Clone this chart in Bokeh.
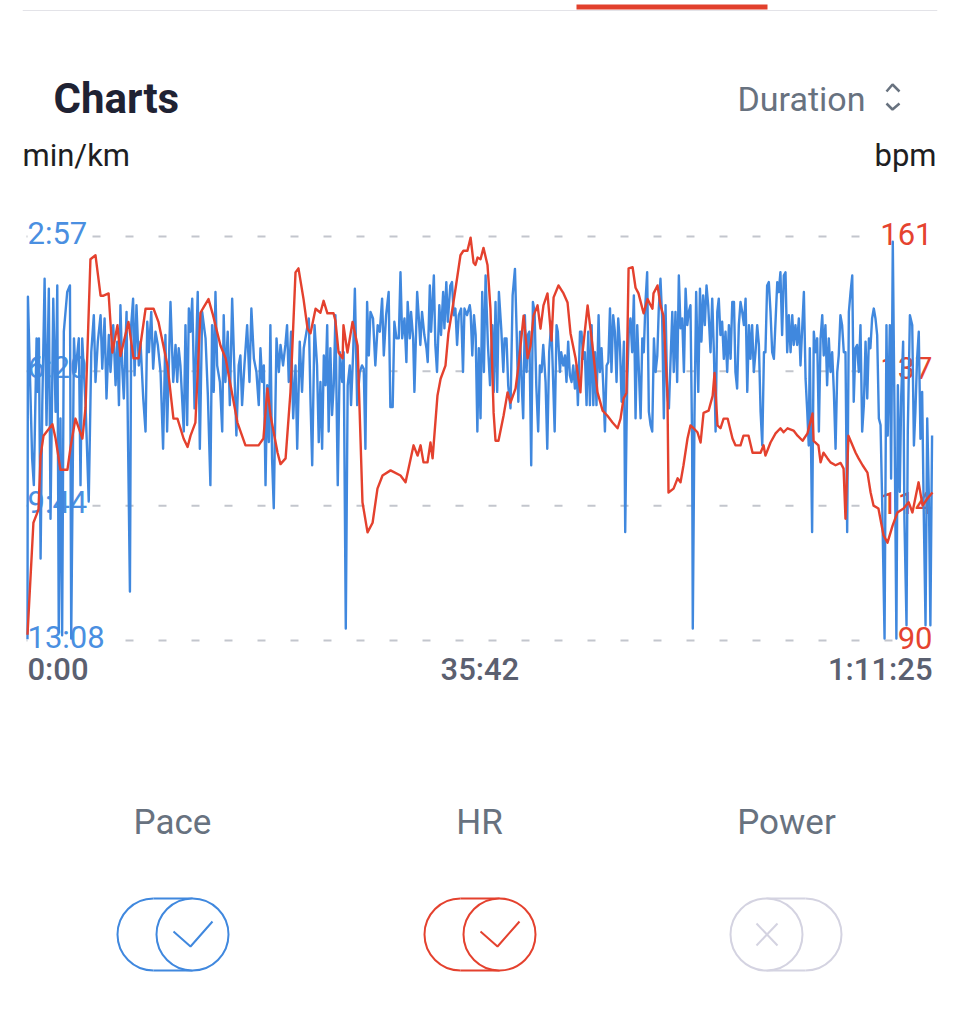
from bokeh.plotting import figure
from bokeh.layouts import column
from bokeh.models import Range1d, Span, Label
from bokeh.core.properties import value
from bokeh.embed import file_html
from bokeh.resources import INLINE

# ---------------- data ----------------
# heart rate samples: elapsed seconds / bpm
hr_time = [
    0, 28, 52, 62, 76, 118, 133, 156, 189, 204,
    227, 260, 275, 298, 322, 346, 360, 384, 402, 426,
    440, 478, 502, 526, 559, 597, 620, 663, 691, 710,
    739, 758, 772, 795, 819, 833, 857, 876, 914, 938,
    994, 1032, 1094, 1117, 1136, 1151, 1184, 1198, 1222, 1245,
    1269, 1283, 1307, 1326, 1340, 1364, 1387, 1402, 1420, 1449,
    1458, 1473, 1492, 1496, 1515, 1539, 1563, 1586, 1610, 1634,
    1657, 1681, 1719, 1766, 1790, 1804, 1828, 1847, 1861, 1875,
    1894, 1908, 1918, 1941, 1956, 1979, 1993, 2012, 2027, 2050,
    2064, 2083, 2098, 2112, 2121, 2131, 2145, 2159, 2178, 2192,
    2207, 2216, 2230, 2254, 2273, 2287, 2311, 2325, 2349, 2368,
    2382, 2396, 2415, 2429, 2443, 2462, 2481, 2491, 2514, 2538,
    2557, 2571, 2595, 2618, 2628, 2652, 2675, 2699, 2723, 2746,
    2770, 2794, 2808, 2822, 2836, 2846, 2865, 2879, 2893, 2917,
    2936, 2959, 2964, 2983, 2997, 3011, 3030, 3035, 3059, 3078,
    3092, 3106, 3125, 3139, 3154, 3172, 3187, 3201, 3225, 3244,
    3253, 3267, 3281, 3296, 3315, 3338, 3352, 3376, 3390, 3414,
    3433, 3471, 3485, 3494, 3518, 3542, 3565, 3580, 3599, 3627,
    3646, 3670, 3693, 3717, 3722, 3745, 3755, 3769, 3788, 3802,
    3826, 3850, 3864, 3873, 3887, 3906, 3921, 3935, 3954, 3977,
    3992, 4006, 4029, 4053, 4072, 4096, 4119, 4148, 4172, 4190,
    4219, 4238, 4262, 4285,
]
hr_bpm = [
    91, 110.7, 113, 122.5, 126, 128, 125.5, 120, 120, 124,
    129, 125.5, 131, 157, 157.7, 150.6, 150.6, 151, 140.6, 145.4,
    140, 146, 139.6, 139.6, 148.3, 148.3, 146, 138.3, 129, 129,
    125.5, 124, 126, 128.3, 147.6, 148.5, 150, 147.5, 141.8, 139.6,
    128.3, 124.3, 124.3, 125.5, 134.3, 129.5, 123, 121, 122, 133.6,
    154.7, 155.4, 150, 144.8, 144, 148.3, 147.6, 149.7, 147.5, 147.5,
    146.2, 140.6, 139.6, 145.4, 140.6, 146, 141.8, 114.3, 109, 110.7,
    116.7, 119, 119.9, 119, 117.8, 120.2, 124.3, 122.5, 124.3, 121.3,
    121.3, 124.8, 122, 133, 136, 138.3, 144, 148.3, 151.9, 157.7,
    158.5, 158.5, 160.8, 156.4, 156, 157.3, 157, 159, 156, 148.3,
    130, 125.1, 125.1, 129.5, 133.6, 131.8, 134.3, 138.3, 147.1, 139.6,
    141.8, 147.1, 148.9, 144.8, 148.9, 151, 142.7, 150.3, 152.4, 151,
    149.4, 144, 139.6, 133.6, 140.6, 148.9, 141.8, 133.6, 130.4, 129.5,
    128.3, 127.3, 129, 132.5, 133.5, 155.4, 155.6, 152, 151, 147.5,
    150, 148.3, 151, 152.4, 148.9, 147.1, 133.6, 116, 116.7, 118.5,
    117.8, 120.8, 125.5, 127.8, 127.3, 126.6, 124.8, 130, 130.4, 133,
    137, 127.8, 127.3, 129, 129, 125.5, 124.3, 124.3, 126, 126,
    123, 123, 124.3, 122.5, 124.8, 126.4, 127.3, 126.6, 127.3, 126.9,
    126, 125.1, 126.4, 129.9, 125.1, 124.3, 121.3, 123, 122, 121.3,
    120.8, 121.2, 120.2, 111.4, 126, 124.3, 123, 122, 120.8, 119.5,
    116, 113.7, 113.2, 108.5, 107.2, 110.2, 112.5, 113.2, 114.3, 112.5,
    117.8, 113.7, 115, 116,
]

# pace samples: elapsed seconds / seconds per km
pace_time = [
    0, 2, 22, 30, 43, 49, 54, 62, 70, 81,
    90, 101, 109, 122, 133, 141, 148, 156, 164, 172,
    188, 201, 207, 220, 227, 243, 251, 259, 275, 290,
    302, 314, 322, 333, 346, 354, 365, 374, 385, 393,
    406, 417, 425, 433, 440, 448, 456, 469, 475, 485,
    491, 500, 507, 516, 527, 535, 548, 559, 567, 575,
    586, 595, 606, 617, 630, 642, 653, 661, 677, 690,
    701, 709, 716, 724, 740, 748, 756, 764, 772, 780,
    791, 806, 816, 827, 843, 854, 866, 874, 882, 890,
    898, 911, 922, 929, 937, 948, 958, 969, 980, 989,
    1000, 1008, 1016, 1027, 1040, 1051, 1060, 1072, 1084, 1095,
    1103, 1111, 1119, 1127, 1135, 1143, 1150, 1158, 1166, 1179,
    1190, 1198, 1210, 1221, 1229, 1237, 1248, 1258, 1269, 1277,
    1289, 1300, 1308, 1321, 1332, 1340, 1348, 1359, 1371, 1379,
    1387, 1395, 1403, 1411, 1419, 1426, 1434, 1442, 1450, 1458,
    1469, 1479, 1490, 1497, 1507, 1516, 1526, 1532, 1542, 1550,
    1561, 1573, 1584, 1592, 1600, 1608, 1616, 1624, 1636, 1647,
    1658, 1668, 1679, 1687, 1698, 1710, 1718, 1729, 1737, 1747,
    1758, 1766, 1774, 1785, 1794, 1800, 1810, 1816, 1826, 1832,
    1845, 1853, 1860, 1868, 1879, 1889, 1895, 1905, 1911, 1924,
    1931, 1939, 1950, 1958, 1968, 1974, 1983, 1990, 2002, 2010,
    2018, 2026, 2034, 2042, 2053, 2062, 2069, 2081, 2094, 2098,
    2106, 2114, 2122, 2130, 2137, 2145, 2153, 2161, 2169, 2180,
    2190, 2201, 2208, 2216, 2224, 2232, 2243, 2253, 2259, 2268,
    2276, 2287, 2297, 2308, 2316, 2324, 2332, 2339, 2347, 2355,
    2363, 2369, 2376, 2385, 2393, 2401, 2409, 2418, 2426, 2434,
    2442, 2453, 2461, 2470, 2480, 2488, 2496, 2505, 2511, 2521,
    2527, 2537, 2545, 2552, 2560, 2568, 2576, 2584, 2592, 2600,
    2606, 2616, 2623, 2631, 2639, 2647, 2655, 2663, 2671, 2679,
    2687, 2694, 2704, 2710, 2718, 2726, 2734, 2742, 2750, 2758,
    2765, 2773, 2781, 2789, 2797, 2805, 2813, 2824, 2830, 2836,
    2840, 2847, 2855, 2863, 2871, 2879, 2887, 2895, 2903, 2911,
    2918, 2926, 2934, 2942, 2950, 2958, 2966, 2974, 2982, 2989,
    2997, 3005, 3013, 3021, 3029, 3037, 3045, 3053, 3060, 3068,
    3076, 3084, 3092, 3100, 3108, 3116, 3124, 3131, 3139, 3147,
    3150, 3158, 3166, 3176, 3184, 3191, 3199, 3207, 3215, 3223,
    3234, 3242, 3250, 3258, 3266, 3273, 3281, 3289, 3297, 3305,
    3313, 3321, 3329, 3337, 3345, 3352, 3360, 3368, 3376, 3384,
    3392, 3400, 3408, 3416, 3423, 3431, 3439, 3447, 3455, 3463,
    3471, 3479, 3487, 3494, 3502, 3510, 3518, 3526, 3534, 3550,
    3557, 3565, 3573, 3581, 3589, 3597, 3605, 3613, 3621, 3628,
    3636, 3644, 3652, 3660, 3676, 3684, 3692, 3699, 3704, 3715,
    3723, 3731, 3739, 3747, 3755, 3763, 3770, 3778, 3786, 3794,
    3802, 3810, 3818, 3826, 3834, 3841, 3849, 3857, 3865, 3873,
    3881, 3889, 3897, 3905, 3912, 3920, 3928, 3936, 3944, 3952,
    3960, 3968, 3976, 3984, 3991, 3999, 4007, 4015, 4023, 4031,
    4039, 4047, 4058, 4067, 4073, 4083, 4089, 4097, 4105, 4114,
    4121, 4130, 4137, 4146, 4152, 4162, 4168, 4178, 4189, 4197,
    4204, 4212, 4220, 4228, 4236, 4244, 4252, 4260, 4268, 4275,
    4283,
]
pace_sec = [
    786, 268, 513, 553, 331, 412, 331, 664, 432, 241,
    462, 256, 604, 271, 442, 251, 775, 452, 780, 321,
    261, 251, 785, 331, 382, 331, 553, 331, 432, 578,
    352, 296, 397, 336, 296, 377, 301, 422, 326, 382,
    311, 402, 336, 432, 281, 372, 422, 291, 462, 714,
    311, 271, 387, 281, 372, 336, 422, 472, 306, 352,
    291, 377, 321, 341, 382, 498, 326, 472, 276, 397,
    341, 397, 346, 372, 472, 311, 462, 286, 321, 271,
    437, 261, 498, 291, 331, 417, 553, 311, 412, 261,
    372, 397, 472, 296, 397, 321, 432, 271, 382, 478,
    372, 357, 432, 372, 311, 397, 286, 362, 382, 432,
    346, 397, 372, 553, 402, 488, 311, 513, 588, 331,
    382, 341, 372, 341, 311, 397, 321, 452, 372, 498,
    336, 412, 346, 321, 301, 427, 523, 311, 372, 488,
    397, 498, 357, 402, 311, 472, 346, 447, 402, 296,
    553, 352, 397, 352, 770, 402, 372, 432, 352, 256,
    432, 382, 372, 377, 498, 276, 357, 291, 301, 372,
    311, 321, 271, 357, 296, 261, 435, 435, 306, 331,
    331, 231, 331, 301, 367, 276, 331, 291, 331, 412,
    261, 301, 341, 291, 326, 346, 367, 251, 321, 236,
    341, 382, 281, 326, 261, 316, 246, 306, 251, 246,
    296, 286, 341, 296, 286, 382, 286, 296, 281, 291,
    357, 296, 326, 472, 346, 452, 261, 382, 236, 341,
    402, 311, 412, 276, 412, 261, 316, 382, 331, 331,
    402, 437, 266, 226, 321, 427, 321, 392, 452, 296,
    382, 326, 321, 523, 276, 291, 402, 472, 372, 382,
    341, 397, 498, 352, 306, 387, 472, 311, 321, 382,
    352, 372, 357, 397, 336, 387, 397, 372, 407, 372,
    432, 321, 321, 362, 352, 432, 321, 432, 311, 432,
    352, 432, 296, 382, 346, 402, 472, 372, 367, 286,
    382, 296, 321, 397, 301, 341, 427, 336, 624, 472,
    392, 321, 301, 352, 266, 452, 311, 382, 452, 331,
    352, 276, 231, 442, 462, 472, 331, 382, 357, 286,
    241, 301, 452, 281, 417, 437, 362, 291, 382, 291,
    397, 236, 316, 301, 382, 256, 311, 291, 281, 493,
    770, 452, 261, 412, 256, 336, 266, 311, 251, 281,
    352, 271, 352, 472, 291, 271, 326, 306, 362, 321,
    382, 311, 362, 276, 276, 382, 407, 311, 276, 291,
    311, 271, 412, 311, 362, 311, 382, 352, 311, 341,
    442, 493, 352, 352, 251, 246, 291, 352, 362, 246,
    261, 231, 326, 236, 231, 352, 296, 352, 296, 341,
    311, 341, 301, 372, 261, 392, 442, 493, 346, 624,
    321, 352, 331, 472, 331, 296, 357, 311, 402, 331,
    382, 352, 412, 498, 382, 357, 296, 311, 352, 352,
    624, 291, 261, 236, 427, 346, 341, 382, 311, 472,
    432, 336, 422, 331, 346, 301, 286, 301, 326, 452,
    462, 583, 785, 311, 478, 311, 543, 185, 442, 785,
    402, 563, 417, 336, 604, 765, 472, 296, 311, 493,
    442, 362, 321, 483, 412, 604, 765, 452, 573, 765,
    478,
]

pace_ticks = [177, 380, 584, 788]
pace_tick_labels = ["2:57", "6:20", "9:44", "13:08"]
hr_ticks = [161, 137.33, 113.67, 90]
hr_tick_labels = ["161", "137", "114", "90"]
time_ticks = [0, 2142, 4285]
time_tick_labels = ["0:00", "35:42", "1:11:25"]
toggle_names = ["Pace", "HR", "Power"]

# ---------------- style ----------------
W = 943
BL, BR = 22, 6                      # side borders shared by all stacked figures
FONT = "Roboto"
BLUE = "#4088de"
RED = "#e4412e"
BLUE_TXT = "#4a8fe1"
RED_TXT = "#e5432f"
GRAY_TXT = "#68727f"
AXIS_TXT = "#5b6070"
GRID = "#c3c6cd"
OFF = "#d4d3e1"


def panel(height):
    f = figure(width=W, height=height, x_range=Range1d(BL, W - BR), y_range=Range1d(height, 0),
               output_backend="svg", toolbar_location=None,
               x_axis_location=None, y_axis_location=None,
               min_border_left=BL, min_border_right=BR, min_border_top=0, min_border_bottom=0)
    f.grid.visible = False
    f.outline_line_color = None
    return f


def txt(f, x, y, s, size, color, align="left", bold=False):
    f.text(x=[x], y=[y], text=[s], text_font=value(FONT), text_font_size=size,
           text_font_style="bold" if bold else "normal", text_color=color,
           text_align=align, text_baseline="middle")


# ---------------- header ----------------
hdr = panel(200)
hdr.line([BL, W - BR], [10, 10], line_color="#e3e3e8", line_width=1)
hdr.quad(left=[576], right=[767], top=[4], bottom=[9], fill_color="#e2402c", line_color=None)
txt(hdr, 53, 98, "Charts", "42px", "#1f2233", bold=True)
txt(hdr, 865, 98, "Duration", "34px", GRAY_TXT, align="right")
hdr.line([886, 892, 899], [91, 84, 91], line_color=GRAY_TXT, line_width=2.5)
hdr.line([886, 892, 899], [103, 109, 103], line_color=GRAY_TXT, line_width=2.5)
txt(hdr, 22, 155, "min/km", "31px", "#1e1e22")
txt(hdr, 936, 155, "bpm", "31px", "#1e1e22", align="right")

# ---------------- chart ----------------
CH = 500
FR_TOP, FR_BOT = 10, 5
GRID_TOP = 26                 # px from frame top to first grid line
GRID_SPAN = 404               # px between top and bottom grid lines
frame_h = CH - FR_TOP - FR_BOT
below = frame_h - GRID_TOP - GRID_SPAN
t_end = time_ticks[-1]
px_per_t = 905 / t_end
hr_hi, hr_lo = max(hr_ticks), min(hr_ticks)
k_hr = (hr_hi - hr_lo) / GRID_SPAN
p_lo, p_hi = min(pace_ticks), max(pace_ticks)
k_p = (p_hi - p_lo) / GRID_SPAN

p = figure(width=W, height=CH,
           x_range=Range1d(-5 / px_per_t, t_end + (W - BR - BL - 910) / px_per_t),
           y_range=Range1d(hr_lo - below * k_hr, hr_hi + GRID_TOP * k_hr),
           output_backend="svg", toolbar_location=None,
           x_axis_location=None, y_axis_location=None,
           min_border_left=BL, min_border_right=BR,
           min_border_top=FR_TOP, min_border_bottom=FR_BOT)
p.grid.visible = False
p.outline_line_color = None
p.extra_y_ranges = {"pace": Range1d(p_hi + below * k_p, p_lo - GRID_TOP * k_p)}

for hv in hr_ticks:
    p.add_layout(Span(location=hv, dimension="width", line_color=GRID, line_width=2,
                      line_dash="8 25", line_dash_offset=29, level="underlay"))

for pv, lab in zip(pace_ticks, pace_tick_labels):
    p.add_layout(Label(x=0, y=pv - 3 * k_p, y_range_name="pace", text=lab, text_font=FONT,
                       text_font_size="31px", text_color=BLUE_TXT, text_align="left",
                       text_baseline="middle", background_fill_color="white",
                       level="underlay"))
for hv, lab in zip(hr_ticks, hr_tick_labels):
    p.add_layout(Label(x=t_end, y=hv + 3 * k_hr, text=lab, text_font=FONT,
                       text_font_size="31px", text_color=RED_TXT, text_align="right",
                       text_baseline="middle", background_fill_color="white",
                       level="underlay"))

x_lab_y = hr_lo - 29 * k_hr
for tv, lab, al in zip(time_ticks, time_tick_labels, ["left", "center", "right"]):
    p.add_layout(Label(x=tv, y=x_lab_y, text=lab, text_font="Roboto Medium",
                       text_font_size="31px", text_color=AXIS_TXT, text_align=al,
                       text_baseline="middle"))

p.line(pace_time, pace_sec, y_range_name="pace", line_color=BLUE, line_width=2.4,
       line_join="round")
p.line(hr_time, hr_bpm, line_color=RED, line_width=2.4, line_join="round")

# ---------------- toggles ----------------
ftr = panel(308)
for name, lx in zip(toggle_names, [172, 479, 786]):
    txt(ftr, lx, 122, name, "35px", GRAY_TXT, align="center")

CY, R = 234, 36


def toggle_on(cx_back, color):
    cx_front = cx_back + 39
    ftr.arc(x=[cx_back], y=[CY], radius=R, start_angle=1.5708, end_angle=4.7124,
            line_color=color, line_width=2)
    ftr.segment(x0=[cx_back, cx_back], y0=[CY - R, CY + R], x1=[cx_front, cx_front],
                y1=[CY - R, CY + R], line_color=color, line_width=2)
    ftr.circle(x=[cx_front], y=[CY], radius=R, fill_color="white", line_color=color,
               line_width=2)
    ftr.line([cx_front - 19, cx_front - 2, cx_front + 20], [CY - 3, CY + 12, CY - 13],
             line_color=color, line_width=2)


toggle_on(153, BLUE)
toggle_on(460, RED)

# power toggle (off)
cxf, cxb = 766, 805
ftr.arc(x=[cxb], y=[CY], radius=R, start_angle=-1.5708, end_angle=1.5708,
        line_color=OFF, line_width=2)
ftr.segment(x0=[cxf, cxf], y0=[CY - R, CY + R], x1=[cxb, cxb], y1=[CY - R, CY + R],
            line_color=OFF, line_width=2)
ftr.circle(x=[cxf], y=[CY], radius=R, fill_color="white", line_color=OFF, line_width=2)
ftr.segment(x0=[cxf - 10, cxf + 11], y0=[CY - 11, CY - 11], x1=[cxf + 11, cxf - 10],
            y1=[CY + 11, CY + 11], line_color=OFF, line_width=2)

layout = column(hdr, p, ftr, spacing=0)
open("out.html", "w").write(file_html(layout, INLINE))
